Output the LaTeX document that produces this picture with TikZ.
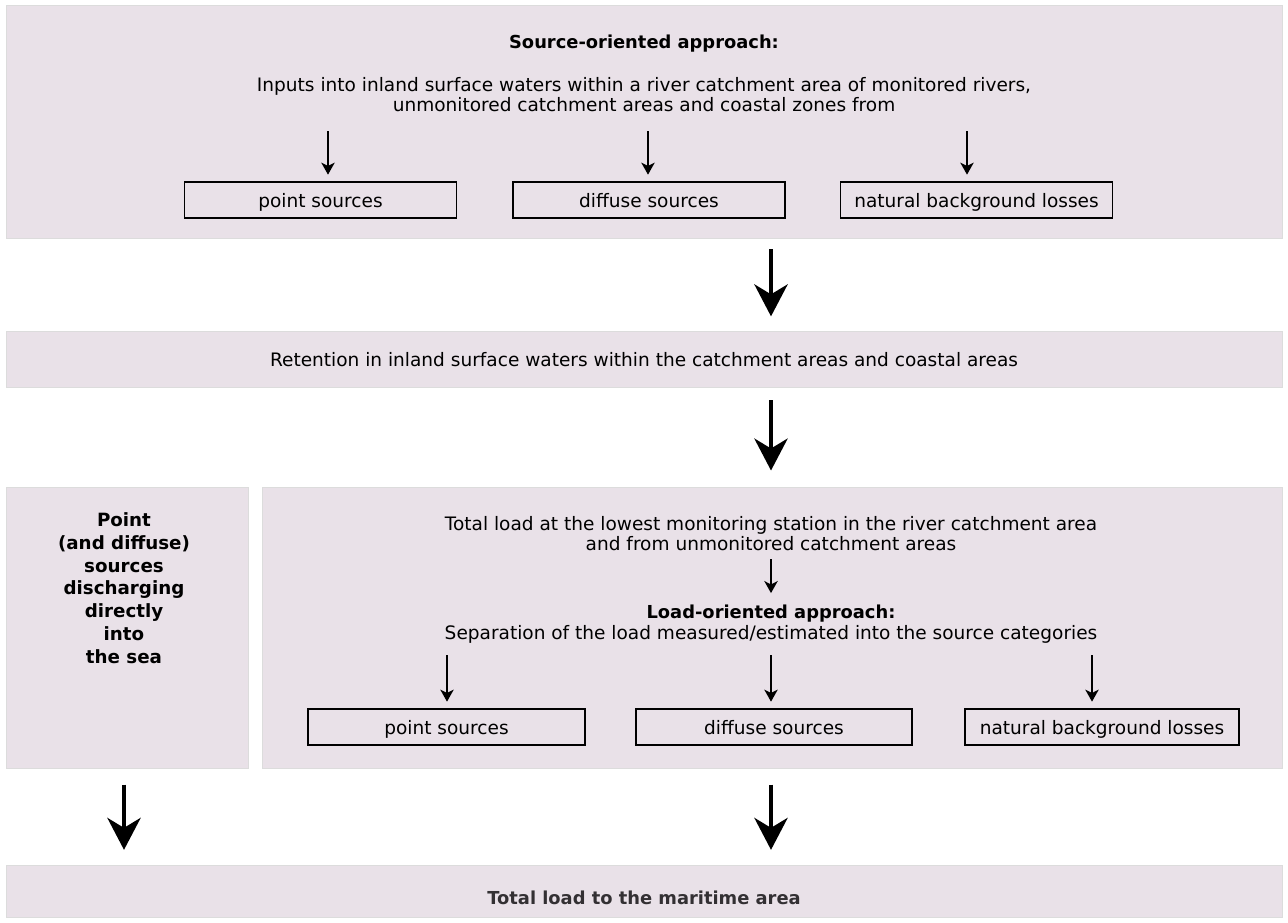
\documentclass[tikz,border=0pt]{standalone}
\usepackage{fontspec}
\setmainfont{DejaVu Sans}
\usetikzlibrary{arrows.meta}
\definecolor{panelfill}{HTML}{E9E1E8}
\definecolor{paneledge}{HTML}{DCDCDC}
\definecolor{darktext}{HTML}{333033}
\tikzset{
  panel/.style={fill=panelfill, draw=paneledge, line width=0.75pt, inner sep=0pt},
  srcbox/.style={draw=black, line width=1pt, minimum width=204pt, minimum height=27pt, inner sep=0pt, text height=13pt, text depth=1.5pt, font=\fontsize{13.9}{15}\selectfont},
  txt/.style={font=\fontsize{13.9}{15}\selectfont, align=center, inner sep=0pt},
  bold/.style={txt, font=\fontsize{13.4}{17}\selectfont\bfseries},
  smallarrow/.style={-{Stealth[length=9pt,width=10pt,inset=2.5pt]}, line width=1.4pt},
  bigarrow/.style={-{Stealth[length=24pt,width=25pt,inset=7.5pt]}, line width=2.6pt},
}
\begin{document}
\begin{tikzpicture}[x=0.75pt,y=-0.75pt]
\useasboundingbox (0,0) rectangle (1288,922);
% panels
\node[panel, minimum width=957pt, minimum height=174.75pt] (p1) at (644,121.5) {};
\node[panel, minimum width=957pt, minimum height=42pt] (p2) at (644,359.5) {};
\node[panel, minimum width=181.5pt, minimum height=210.75pt] (p3l) at (127,627.5) {};
\node[panel, minimum width=765pt, minimum height=210.75pt] (p3r) at (772,627.5) {};
\node[panel, minimum width=957pt, minimum height=39pt] (p4) at (644,891) {};
% panel 1 content
\node[bold] (t1) at (644,44) {Source-oriented approach:};
\node[txt] (t2) at (644,95) {Inputs into inland surface waters within a river catchment area of monitored rivers,\\unmonitored catchment areas and coastal zones from};
\node[srcbox] (b1) at (320.5,200) {point sources};
\node[srcbox] (b2) at (649,200) {diffuse sources};
\node[srcbox] (b3) at (976.5,200) {natural background losses};
\coordinate (s1) at (328,131);
\coordinate (s2) at (648,131);
\coordinate (s3) at (967,131);
\draw[smallarrow] (s1) -- ([yshift=5pt]s1 |- b1.north);
\draw[smallarrow] (s2) -- ([yshift=5pt]s2 |- b2.north);
\draw[smallarrow] (s3) -- ([yshift=5pt]s3 |- b3.north);
% retention
\node[txt] (t3) at (644,360) {Retention in inland surface waters within the catchment areas and coastal areas};
\coordinate (cx) at (771,0);
\draw[bigarrow] ([yshift=-8pt]p1.south -| cx) -- ([yshift=11pt]p2.north -| cx);
\draw[bigarrow] ([yshift=-9pt]p2.south -| cx) -- ([yshift=12pt]p3r.north -| cx);
% left panel
\node[bold, font=\fontsize{13.7}{17.1}\selectfont\bfseries] (t4) at (124,588) {Point\\(and diffuse)\\sources\\discharging\\directly\\into\\the sea};
% right panel
\node[txt] (t5) at (771,534) {Total load at the lowest monitoring station in the river catchment area\\and from unmonitored catchment areas};
\node[bold] (t6) at (771,614) {Load-oriented approach:};
\node[txt] (t7) at (771,634) {Separation of the load measured/estimated into the source categories};
\draw[smallarrow] ([yshift=-6pt]t5.south) -- ([yshift=9pt]t6.north);
\node[srcbox, minimum width=207.75pt] (b4) at (446.5,727) {point sources};
\node[srcbox, minimum width=207pt] (b5) at (774,727) {diffuse sources};
\node[srcbox, minimum width=205.5pt] (b6) at (1102,727) {natural background losses};
\coordinate (s4) at (447,655);
\coordinate (s5) at (771,655);
\coordinate (s6) at (1092,655);
\draw[smallarrow] (s4) -- ([yshift=5pt]s4 |- b4.north);
\draw[smallarrow] (s5) -- ([yshift=5pt]s5 |- b5.north);
\draw[smallarrow] (s6) -- ([yshift=5pt]s6 |- b6.north);
% bottom
\coordinate (lx) at (124,0);
\draw[bigarrow] ([yshift=-12pt]p3l.south -| lx) -- ([yshift=11pt]p4.north -| lx);
\draw[bigarrow] ([yshift=-12pt]p3r.south -| cx) -- ([yshift=11pt]p4.north -| cx);
\node[bold, text=darktext] (t8) at (644,898) {Total load to the maritime area};
\end{tikzpicture}
\end{document}
